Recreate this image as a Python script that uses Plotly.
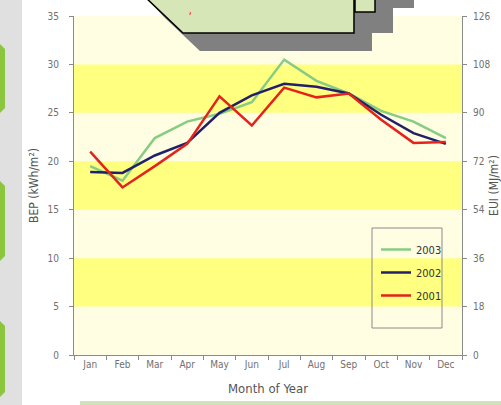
import plotly.graph_objects as go

months = ["Jan", "Feb", "Mar", "Apr", "May", "Jun", "Jul", "Aug", "Sep", "Oct", "Nov", "Dec"]
bep_2003 = [19.5, 18.0, 22.4, 24.1, 24.9, 26.1, 30.5, 28.3, 27.0, 25.2, 24.1, 22.4]
bep_2002 = [18.9, 18.8, 20.6, 21.9, 25.0, 26.8, 28.0, 27.7, 27.0, 24.8, 22.9, 21.8]
bep_2001 = [21.0, 17.3, 19.5, 21.8, 26.7, 23.7, 27.6, 26.6, 27.0, 24.3, 21.9, 22.0]

bep_ticks = [0, 5, 10, 15, 20, 25, 30, 35]
eui_ticks = [0, 18, 36, 54, 72, 90, 108, 126]
bands = [(5, 10), (15, 20), (25, 30)]

W, H = 501, 405
L, R, T, B = 74, 39, 16, 50
PW, PH = W - L - R, H - T - B


def px(x):
    return (x - L) / PW


def py(y):
    return (H - B - y) / PH


def path(points):
    return "M " + " L ".join(f"{px(x):.4f},{py(y):.4f}" for x, y in points) + " Z"


NARROW = "DejaVu Sans Condensed, Liberation Sans Narrow, Liberation Sans, sans-serif"
tick_font = dict(family=NARROW, size=10, color="#707070")

fig = go.Figure()
series = [("2003", bep_2003, "#86CC82"), ("2002", bep_2002, "#22206A"), ("2001", bep_2001, "#E5221B")]
for name, vals, col in series:
    fig.add_trace(go.Scatter(x=months, y=vals, name=name, mode="lines",
                             line=dict(color=col, width=2.5), legendgroup=name))

# empty trace so the right-hand EUI axis is drawn
fig.add_trace(go.Scatter(x=[], y=[], yaxis="y2", showlegend=False, hoverinfo="skip"))

shapes = []
for lo, hi in bands:
    shapes.append(dict(type="rect", xref="paper", yref="y", x0=0, x1=1, y0=lo, y1=hi,
                       fillcolor="#FFFF80", line=dict(width=0), layer="below"))

# legend frame
shapes.append(dict(type="rect", xref="paper", yref="paper", x0=px(372), x1=px(442), y0=py(228), y1=py(328),
                   line=dict(color="#8A8A8A", width=1), fillcolor="rgba(0,0,0,0)", layer="above"))

# page decorations around the chart
shapes += [
    dict(type="rect", xref="paper", yref="paper", x0=px(0), x1=px(22), y0=py(0), y1=py(H),
         fillcolor="#E0E0E0", line=dict(width=0), layer="above"),
    dict(type="rect", xref="paper", yref="paper", x0=px(80), x1=px(W), y0=py(401), y1=py(H),
         fillcolor="#CFE2BC", line=dict(width=0), layer="above"),
]
for y0, y1 in [(43, 114), (180, 262), (320, 398)]:
    x0, x1, r = -20, 5, 6
    shapes.append(dict(type="path", xref="paper", yref="paper",
                       path=path([(x0, y0), (x1 - r, y0), (x1, y0 + r), (x1, y1 - r), (x1 - r, y1), (x0, y1)]),
                       fillcolor="#8CC63F", line=dict(width=0), layer="above"))

shapes += [
    dict(type="path", xref="paper", yref="paper",
         path=path([(148, 0), (165, 18), (200, 51), (372, 51), (372, 33), (393, 33), (393, 8), (414, 8), (414, 0)]),
         fillcolor="#808080", line=dict(width=0), layer="above"),
    dict(type="path", xref="paper", yref="paper",
         path=path([(355, -5), (375, -5), (375, 12), (355, 12)]),
         fillcolor="#D7E6B6", line=dict(color="black", width=1.5), layer="above"),
    dict(type="path", xref="paper", yref="paper",
         path=path([(143, -5), (183, 33), (354, 33), (354, -5)]),
         fillcolor="#D7E6B6", line=dict(color="black", width=1.5), layer="above"),
]

fig.update_layout(
    width=W, height=H,
    margin=dict(l=L, r=R, t=T, b=B, autoexpand=False),
    paper_bgcolor="white",
    plot_bgcolor="#FFFDE2",
    shapes=shapes,
    showlegend=True,
    legend=dict(x=px(376), y=py(235), xanchor="left", yanchor="top",
                bgcolor="rgba(0,0,0,0)", borderwidth=0,
                font=dict(family=NARROW, size=11, color="#333333"),
                tracegroupgap=4, traceorder="grouped", itemwidth=30),
    xaxis=dict(type="category", range=[-0.5, 11.5], showgrid=False, zeroline=False,
               showline=True, linecolor="#8A8A8A", linewidth=1, automargin=False,
               ticks="outside", tickson="boundaries", ticklen=4, tickcolor="#8A8A8A",
               tickfont=tick_font,
               title=dict(text="Month of Year", standoff=14,
                          font=dict(family=NARROW, size=13, color="#555555"))),
    yaxis=dict(range=[0, 35], tickvals=bep_ticks, showgrid=False, zeroline=False,
               showline=True, linecolor="#8A8A8A", linewidth=1, automargin=False,
               ticks="outside", ticklen=4, tickcolor="#8A8A8A", tickfont=tick_font,
               ticklabelstandoff=8,
               title=dict(text="BEP (kWh/m²)", standoff=6,
                          font=dict(family=NARROW, size=12, color="#555555"))),
    yaxis2=dict(range=[0, 126], tickvals=eui_ticks, overlaying="y", side="right", anchor="x",
                showgrid=False, zeroline=False, showline=True, linecolor="#8A8A8A", linewidth=1,
                automargin=False,
                ticks="outside", ticklen=4, tickcolor="#8A8A8A", tickfont=tick_font,
                ticklabelstandoff=4,
                title=dict(text="EUI (MJ/m²)", standoff=8,
                           font=dict(family=NARROW, size=12, color="#555555"))),
    annotations=[dict(text=",", xref="paper", yref="paper", x=px(190), y=py(0), showarrow=False,
                      font=dict(color="red", size=11), xanchor="center", yanchor="top")],
)

fig.write_html("out.html")
